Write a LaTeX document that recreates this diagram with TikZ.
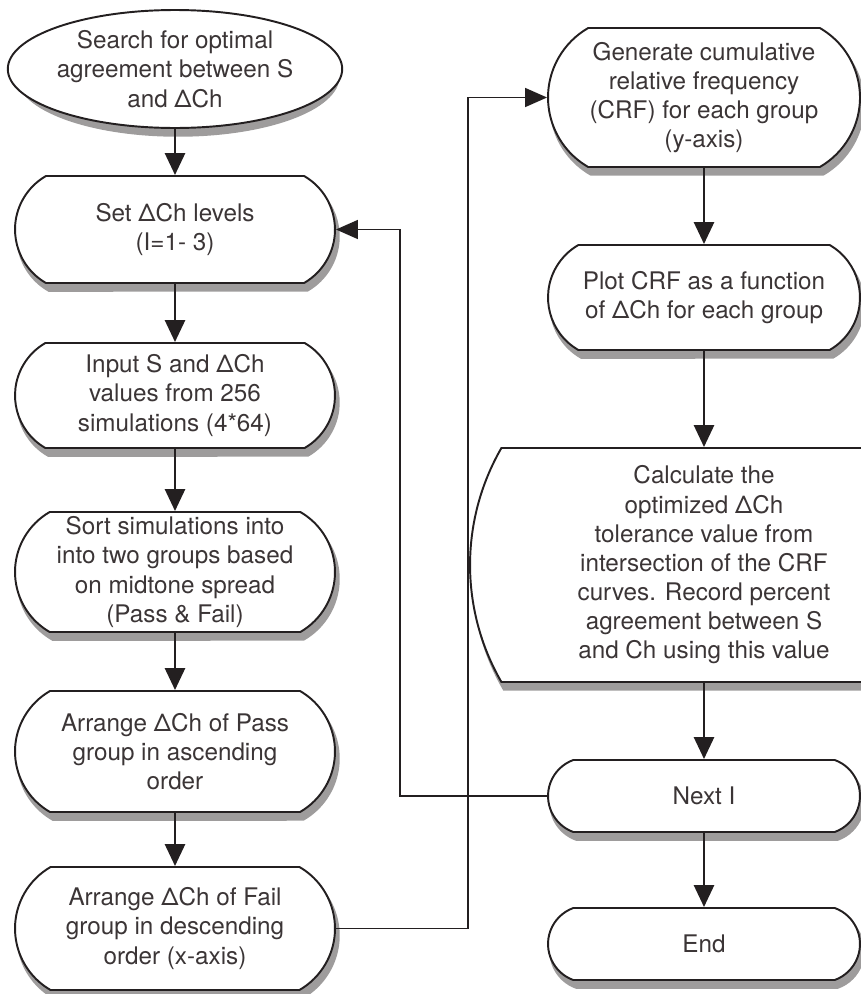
\documentclass[tikz,border=0pt]{standalone}
\usepackage{fontspec}
\setmainfont{TeX Gyre Heros}
\usepackage{xcolor}
\usetikzlibrary{shapes.geometric,shapes.misc,arrows.meta}
\definecolor{inkgray}{HTML}{3B3536}
\definecolor{edgegray}{HTML}{231F20}
\definecolor{shadegray}{HTML}{9E9C9C}

\begin{document}
\begin{tikzpicture}[x=0.02cm,y=-0.02cm,
  every node/.style={font=\fontsize{13.8}{16.6}\selectfont,text=inkgray,align=center},
  startoval/.style={ellipse,draw=edgegray,line width=1.1pt,fill=white,inner sep=0pt,
    minimum width=6.4cm,minimum height=2.36cm},
  pill/.style={rounded rectangle,rounded rectangle arc length=120,draw=edgegray,line width=1.1pt,
    fill=white,inner sep=0pt},
  leftpill/.style={pill,minimum width=6.4cm},
  rightpill/.style={pill,minimum width=6.24cm},
  castshadow/.style={draw=shadegray,line width=2pt,fill=shadegray},
  flowarrow/.style={draw=edgegray,line width=1.6pt,-{Triangle[length=0.44cm,width=0.4cm]}},
  looparrow/.style={draw=edgegray,line width=0.9pt,-{Triangle[length=0.44cm,width=0.38cm]}}]
  \useasboundingbox (0,0) rectangle (860,994);

  % Left column
  \node[startoval,castshadow] (search-sh) at (178,76) {};
  \node[startoval] (search) at (175,69) {Search for optimal\\agreement between S\\and ΔCh};
  \node[leftpill,castshadow,minimum height=2.14cm] (setlev-sh) at (178,236.5) {};
  \node[leftpill,minimum height=2.14cm] (setlev) at (175,229.5) {Set ΔCh levels\\(I=1- 3)};
  \node[leftpill,castshadow,minimum height=2.1cm] (input-sh) at (178,402.5) {};
  \node[leftpill,minimum height=2.1cm] (input) at (175,395.5) {Input S and ΔCh\\values from 256\\simulations (4*64)};
  \node[leftpill,castshadow,minimum height=2.4cm] (sort-sh) at (178,579) {};
  \node[leftpill,minimum height=2.4cm] (sort) at (175,572) {Sort simulations into\\into two groups based\\on midtone spread\\(Pass \& Fail)};
  \node[leftpill,castshadow,minimum height=2.42cm] (pass-sh) at (178,758.5) {};
  \node[leftpill,minimum height=2.42cm] (pass) at (175,751.5) {Arrange ΔCh of Pass\\group in ascending\\order};
  \node[leftpill,castshadow,minimum height=2.46cm] (fail-sh) at (178,935.5) {};
  \node[leftpill,minimum height=2.46cm] (fail) at (175,928.5) {Arrange ΔCh of Fail\\group in descending\\order (x-axis)};

  % Right column
  \node[rightpill,castshadow,minimum height=2.78cm] (gen-sh) at (707,104.5) {};
  \node[rightpill,minimum height=2.78cm] (gen) at (704,97.5) {Generate cumulative\\relative frequency\\(CRF) for each group\\(y-axis)};
  \node[rightpill,castshadow,minimum height=2.1cm] (plot-sh) at (707,304.5) {};
  \node[rightpill,minimum height=2.1cm] (plot) at (704,297.5) {Plot CRF as a function\\of ΔCh for each group};
  \node[rightpill,castshadow,rounded rectangle arc length=60,minimum height=4.68cm] (calc-sh) at (707,572) {};
  \node[rightpill,rounded rectangle arc length=60,minimum height=4.68cm] (calc) at (704,565) {Calculate the\\optimized ΔCh\\tolerance value from\\intersection of the CRF\\curves. Record percent\\agreement between S\\and Ch using this value};
  \node[rightpill,castshadow,rounded rectangle arc length=140,minimum height=1.44cm] (next-sh) at (707,803) {};
  \node[rightpill,rounded rectangle arc length=140,minimum height=1.44cm] (next) at (704,796) {Next I};
  \node[rightpill,castshadow,rounded rectangle arc length=140,minimum height=1.44cm] (finish-sh) at (707,951) {};
  \node[rightpill,rounded rectangle arc length=140,minimum height=1.44cm] (finish) at (704,944) {End};

  % Straight arrows
  \foreach \a/\b in {search/setlev,setlev/input,input/sort,sort/pass,pass/fail,gen/plot,plot/calc,calc/next,next/finish}
    \draw[flowarrow] (\a.south) -- (\b.north);

  % Loop back to the levels box
  \coordinate (jogB) at (400,234);
  \draw[looparrow] (next.west) -- (next.west -| jogB) -- (jogB |- setlev.east) -- (setlev.east);

  % Jump to the right column
  \coordinate (jogA) at (468,97);
  \draw[looparrow] (fail.east) -- (fail.east -| jogA) -- (jogA |- gen.west) -- (gen.west);
\end{tikzpicture}
\end{document}
